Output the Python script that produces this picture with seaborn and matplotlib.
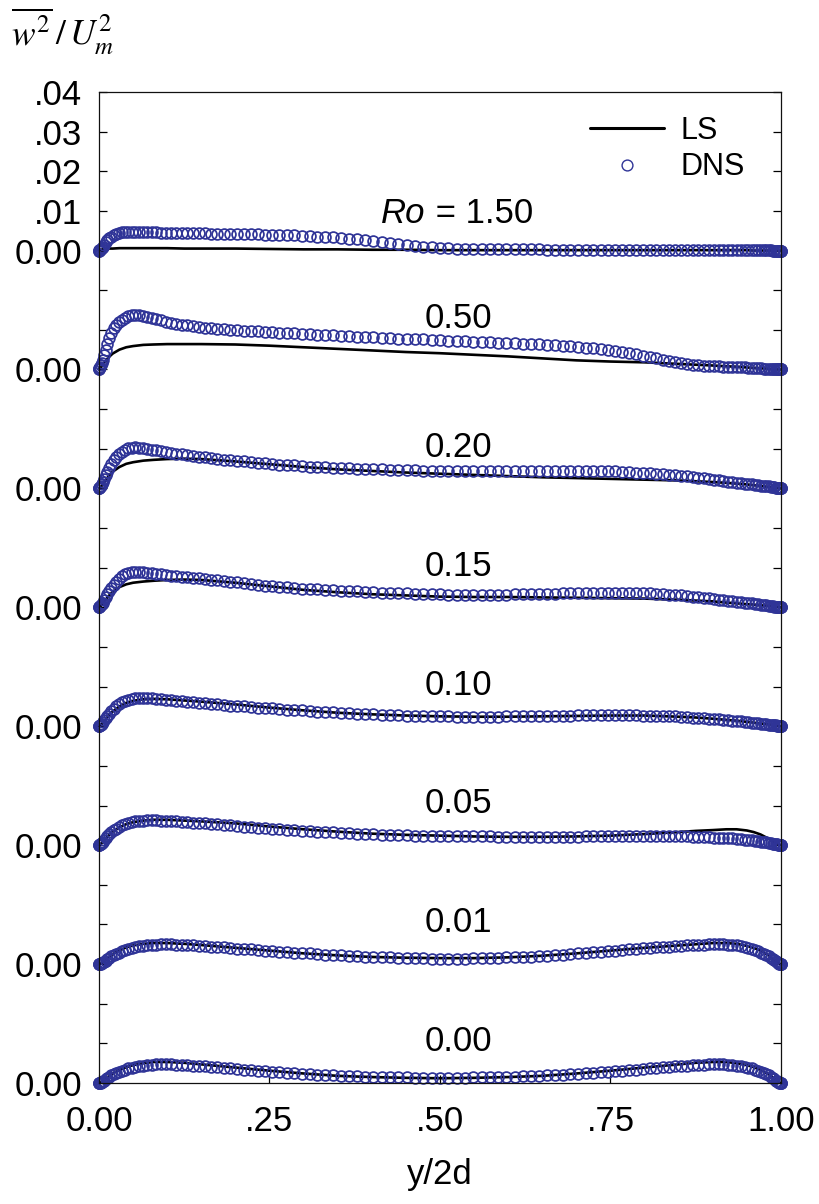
import numpy as np
import matplotlib
matplotlib.use("Agg")
import matplotlib.pyplot as plt
import seaborn as sns
from matplotlib.lines import Line2D

sns.set_theme(style="ticks")
plt.rcParams["font.family"] = ["Liberation Sans", "DejaVu Sans"]
plt.rcParams["mathtext.fontset"] = "stix"
plt.rcParams["text.color"] = "black"

# Profiles are stored in units of 1e-4 (w'w'/Um^2); each rotation case is
# shifted upward by STEP so the curves stack in one panel.
UNIT = 1e-4
STEP = 0.03

rotation_labels = ["0.00", "0.01", "0.05", "0.10", "0.15", "0.20", "0.50", "1.50"]

# DNS wall-normal grid (Chebyshev points)
x_dns = [
    0.0, 0.0002, 0.0006, 0.0014, 0.0024, 0.0038, 0.0054, 0.0074, 0.0096, 0.0121, 0.0150, 0.0181, 0.0215, 0.0252, 0.0292, 0.0335,
    0.0381, 0.0429, 0.0480, 0.0534, 0.0590, 0.0650, 0.0711, 0.0776, 0.0843, 0.0912, 0.0984, 0.1058, 0.1135, 0.1214, 0.1295, 0.1379,
    0.1464, 0.1552, 0.1642, 0.1734, 0.1828, 0.1924, 0.2022, 0.2121, 0.2222, 0.2325, 0.2429, 0.2536, 0.2643, 0.2752, 0.2862, 0.2974,
    0.3087, 0.3201, 0.3316, 0.3432, 0.3549, 0.3666, 0.3785, 0.3904, 0.4025, 0.4145, 0.4266, 0.4388, 0.4510, 0.4632, 0.4755, 0.4877,
    0.5000,
    0.5123, 0.5245, 0.5368, 0.5490, 0.5612, 0.5734, 0.5855, 0.5975, 0.6096, 0.6215, 0.6334, 0.6451, 0.6568, 0.6684, 0.6799, 0.6913,
    0.7026, 0.7138, 0.7248, 0.7357, 0.7464, 0.7571, 0.7675, 0.7778, 0.7879, 0.7978, 0.8076, 0.8172, 0.8266, 0.8358, 0.8448, 0.8536,
    0.8621, 0.8705, 0.8786, 0.8865, 0.8942, 0.9016, 0.9088, 0.9157, 0.9224, 0.9289, 0.9350, 0.9410, 0.9466, 0.9520, 0.9571, 0.9619,
    0.9665, 0.9708, 0.9748, 0.9785, 0.9819, 0.9850, 0.9879, 0.9904, 0.9926, 0.9946, 0.9962, 0.9976, 0.9986, 0.9994, 0.9998, 1.0,
]

dns_ro000 = [
    0, 0, 0, 0, 1, 2, 4, 6, 9, 12, 16, 19, 22, 25, 28, 31,
    34, 37, 39, 41, 43, 44, 45, 46, 47, 47, 47, 47, 46, 46, 45, 44,
    43, 42, 41, 40, 39, 37, 36, 34, 33, 31, 30, 29, 27, 26, 24, 23,
    22, 21, 20, 19, 18, 17, 17, 16, 15, 15, 14, 14, 14, 13, 13, 13,
    13,
    13, 13, 13, 14, 14, 14, 15, 15, 16, 17, 17, 18, 19, 20, 21, 22,
    23, 24, 26, 27, 29, 30, 31, 33, 34, 36, 37, 39, 40, 41, 42, 43,
    44, 45, 46, 46, 47, 47, 47, 47, 46, 45, 44, 43, 41, 39, 37, 34,
    31, 28, 25, 22, 19, 16, 12, 9, 6, 4, 2, 1, 0, 0, 0, 0,
]
dns_ro001 = [
    0, 0, 0, 0, 1, 2, 4, 6, 9, 13, 16, 20, 23, 26, 29, 32,
    35, 38, 40, 43, 45, 46, 47, 48, 49, 50, 50, 50, 49, 49, 48, 47,
    46, 45, 44, 43, 42, 41, 39, 38, 37, 35, 34, 33, 31, 30, 29, 28,
    27, 26, 24, 23, 22, 21, 20, 19, 18, 17, 17, 16, 16, 15, 15, 14,
    14,
    14, 14, 14, 15, 15, 16, 16, 17, 18, 18, 19, 20, 21, 23, 24, 26,
    27, 29, 30, 31, 33, 34, 36, 37, 38, 40, 41, 42, 43, 44, 45, 46,
    47, 48, 49, 49, 50, 50, 50, 50, 49, 48, 47, 45, 43, 41, 38, 35,
    32, 29, 26, 23, 20, 16, 13, 10, 7, 4, 2, 1, 0, 0, 0, 0,
]
dns_ro005 = [
    0, 0, 1, 2, 3, 5, 8, 12, 17, 22, 27, 32, 37, 42, 46, 50,
    53, 56, 58, 60, 61, 62, 63, 63, 63, 62, 62, 61, 60, 59, 58, 57,
    56, 55, 54, 53, 51, 50, 49, 47, 46, 44, 43, 42, 40, 39, 37, 36,
    35, 34, 33, 32, 31, 30, 29, 28, 27, 26, 26, 25, 25, 24, 24, 24,
    23,
    23, 23, 23, 22, 22, 22, 21, 21, 21, 21, 21, 21, 21, 21, 21, 21,
    21, 22, 22, 22, 22, 23, 23, 23, 23, 23, 23, 23, 23, 23, 23, 22,
    22, 21, 21, 20, 20, 19, 19, 18, 17, 17, 16, 15, 14, 13, 12, 11,
    10, 9, 8, 7, 6, 5, 4, 3, 2, 2, 1, 1, 0, 0, 0, 0,
]
dns_ro010 = [
    0, 0, 1, 2, 4, 6, 10, 15, 20, 26, 32, 38, 44, 50, 55, 60,
    64, 67, 69, 71, 72, 72, 71, 70, 69, 68, 67, 66, 64, 63, 62, 60,
    59, 58, 56, 55, 53, 52, 51, 50, 48, 47, 46, 45, 43, 42, 41, 40,
    38, 37, 36, 35, 34, 33, 32, 31, 30, 29, 28, 28, 27, 26, 26, 25,
    25,
    25, 24, 24, 24, 24, 24, 24, 25, 25, 25, 26, 26, 26, 27, 27, 27,
    28, 28, 28, 28, 28, 28, 28, 28, 28, 27, 27, 26, 26, 25, 25, 24,
    23, 22, 21, 20, 19, 18, 17, 16, 15, 14, 13, 12, 11, 10, 9, 8,
    7, 6, 6, 5, 4, 3, 3, 2, 2, 1, 1, 0, 0, 0, 0, 0,
]
dns_ro015 = [
    0, 0, 1, 3, 5, 8, 12, 18, 25, 33, 41, 49, 57, 65, 72, 78,
    83, 86, 88, 89, 89, 88, 87, 86, 85, 83, 82, 80, 79, 77, 76, 74,
    73, 71, 70, 68, 66, 64, 63, 61, 59, 57, 55, 53, 52, 50, 49, 47,
    46, 45, 44, 43, 42, 41, 40, 39, 38, 37, 37, 36, 35, 34, 34, 33,
    33,
    32, 32, 32, 32, 32, 32, 32, 32, 33, 33, 33, 34, 34, 34, 35, 35,
    35, 36, 36, 36, 36, 36, 36, 36, 36, 35, 35, 34, 33, 32, 31, 30,
    29, 27, 26, 24, 23, 21, 19, 18, 16, 15, 14, 13, 12, 11, 10, 9,
    8, 7, 6, 5, 4, 4, 3, 2, 2, 1, 1, 0, 0, 0, 0, 0,
]
dns_ro020 = [
    0, 1, 2, 4, 7, 11, 17, 24, 33, 42, 52, 62, 71, 80, 87, 93,
    98, 101, 103, 104, 103, 102, 100, 98, 96, 94, 92, 90, 88, 86, 84, 82,
    80, 78, 76, 74, 72, 71, 69, 68, 66, 65, 63, 62, 60, 59, 58, 56,
    55, 54, 53, 52, 51, 51, 50, 49, 48, 48, 47, 47, 46, 46, 45, 45,
    44,
    44, 44, 44, 44, 43, 43, 43, 43, 43, 43, 43, 43, 43, 44, 44, 44,
    44, 44, 44, 44, 43, 43, 42, 41, 40, 39, 38, 37, 36, 34, 33, 31,
    30, 28, 26, 25, 23, 21, 20, 18, 17, 15, 14, 13, 12, 11, 10, 9,
    8, 7, 6, 5, 5, 4, 3, 3, 2, 2, 1, 1, 0, 0, 0, 0,
]
dns_ro050 = [
    0, 1, 3, 6, 11, 17, 25, 36, 50, 65, 80, 93, 104, 113, 120, 126,
    131, 135, 137, 138, 137, 135, 133, 130, 127, 124, 121, 118, 115, 113, 111, 109,
    107, 105, 104, 102, 101, 100, 99, 98, 97, 96, 95, 94, 93, 92, 91, 90,
    89, 88, 87, 86, 85, 84, 83, 82, 81, 80, 79, 78, 77, 76, 76, 75,
    74,
    73, 72, 71, 70, 69, 69, 68, 67, 66, 65, 64, 63, 62, 61, 59, 58,
    57, 55, 53, 51, 49, 47, 44, 41, 38, 35, 32, 28, 25, 21, 18, 16,
    14, 12, 11, 10, 9, 8, 8, 7, 7, 6, 6, 5, 5, 4, 4, 3,
    3, 3, 2, 2, 2, 1, 1, 1, 1, 0, 0, 0, 0, 0, 0, 0,
]
dns_ro150 = [
    0, 0, 1, 2, 4, 6, 10, 15, 21, 26, 31, 35, 39, 42, 45, 47,
    48, 48, 48, 48, 47, 47, 46, 46, 46, 45, 45, 45, 45, 45, 44, 44,
    44, 44, 43, 43, 43, 42, 42, 42, 41, 41, 40, 40, 39, 38, 38, 37,
    36, 35, 34, 33, 31, 30, 28, 26, 24, 22, 19, 17, 14, 12, 10, 8,
    7,
    6, 5, 5, 4, 4, 4, 3, 3, 3, 3, 3, 3, 2, 2, 2, 2,
    2, 2, 2, 2, 2, 2, 2, 2, 2, 2, 2, 2, 2, 2, 1, 1,
    1, 1, 1, 1, 1, 1, 1, 1, 1, 1, 1, 1, 1, 1, 1, 1,
    1, 1, 1, 1, 1, 1, 0, 0, 0, 0, 0, 0, 0, 0, 0, 0,
]

# LS model solution grid
x_ls = [
    0.0, 0.002, 0.005, 0.01, 0.015, 0.02, 0.03, 0.04, 0.05, 0.065,
    0.08, 0.10, 0.125, 0.15, 0.20, 0.25, 0.30, 0.35, 0.40, 0.45,
    0.50, 0.55, 0.60, 0.65, 0.70, 0.75, 0.80, 0.85, 0.875, 0.90,
    0.92, 0.935, 0.95, 0.96, 0.97, 0.98, 0.985, 0.99, 0.995, 0.998, 1.0,
]
ls_ro000 = [0, 1, 4, 11, 18, 24, 33, 40, 45, 50,
            53, 53, 51, 47, 39, 31, 24, 18, 15, 13,
            12, 13, 15, 18, 24, 31, 39, 47, 51, 53,
            53, 50, 45, 40, 33, 24, 18, 11, 4, 1, 0]
ls_ro001 = [0, 1, 4, 11, 18, 25, 35, 42, 47, 51,
            53, 53, 51, 48, 41, 34, 27, 22, 18, 16,
            15, 15, 17, 21, 27, 34, 41, 47, 50, 53,
            53, 51, 46, 41, 34, 24, 18, 11, 4, 1, 0]
ls_ro005 = [0, 2, 7, 17, 26, 34, 45, 53, 58, 62,
            64, 64, 62, 60, 55, 47, 40, 34, 29, 26,
            24, 22, 21, 21, 22, 24, 28, 33, 36, 38,
            40, 40, 37, 33, 27, 18, 13, 8, 3, 1, 0]
ls_ro010 = [0, 2, 7, 18, 28, 37, 50, 59, 64, 68,
            69, 68, 65, 62, 55, 47, 40, 34, 30, 27,
            25, 24, 24, 25, 26, 27, 27, 24, 22, 19,
            16, 14, 11, 9, 7, 5, 4, 2, 1, 0, 0]
ls_ro015 = [0, 2, 8, 19, 30, 39, 51, 58, 62, 65,
            67, 69, 70, 69, 62, 53, 44, 38, 33, 30,
            27, 26, 26, 25, 24, 23, 22, 19, 17, 15,
            12, 10, 8, 7, 5, 4, 3, 2, 1, 0, 0]
ls_ro020 = [0, 2, 9, 21, 33, 42, 54, 62, 66, 70,
            72, 74, 75, 74, 68, 61, 54, 48, 44, 40,
            37, 34, 31, 28, 26, 24, 22, 20, 18, 16,
            14, 12, 10, 8, 6, 4, 3, 2, 1, 0, 0]
ls_ro050 = [0, 3, 10, 22, 32, 40, 50, 56, 59, 62,
            63, 64, 64, 64, 63, 60, 56, 52, 48, 44,
            41, 37, 33, 28, 23, 20, 18, 14, 12, 10,
            8, 7, 5, 4, 3, 2, 1, 1, 0, 0, 0]
ls_ro150 = [0, 1, 3, 4, 5, 5, 6, 6, 6, 6,
            6, 6, 5, 5, 5, 4, 3, 3, 2, 2,
            1, 1, 1, 1, 1, 1, 1, 1, 1, 1,
            1, 1, 1, 0, 0, 0, 0, 0, 0, 0, 0]

dns_profiles = [dns_ro000, dns_ro001, dns_ro005, dns_ro010,
                dns_ro015, dns_ro020, dns_ro050, dns_ro150]
ls_profiles = [ls_ro000, ls_ro001, ls_ro005, ls_ro010,
               ls_ro015, ls_ro020, ls_ro050, ls_ro150]

BLUE = "#2F3497"
TEXT_SIZE = 25
MARKER_SIZE = 7.8
MARKER_EDGE = 1.25

fig = plt.figure(figsize=(8.2, 12.04), dpi=100)
ax = fig.add_axes([0.1207, 0.1005, 0.8317, 0.8231])

for k, (lab, ls_vals, dns_vals) in enumerate(zip(rotation_labels, ls_profiles, dns_profiles)):
    base = k * STEP
    sns.lineplot(x=np.array(x_ls), y=np.array(ls_vals) * UNIT + base, ax=ax,
                 color="black", linewidth=1.9, sort=False, estimator=None)
    sns.lineplot(x=np.array(x_dns), y=np.array(dns_vals) * UNIT + base, ax=ax,
                 linestyle="none", marker="o", markersize=MARKER_SIZE,
                 markerfacecolor="none", markeredgecolor=BLUE,
                 markeredgewidth=MARKER_EDGE, sort=False, estimator=None)
    if k < len(rotation_labels) - 1:
        ax.text(0.527, base + 0.0104 + (0.0025 if lab == "0.50" else 0.0), lab,
                ha="center", va="center", fontsize=TEXT_SIZE, color="black")
    else:
        ax.text(0.479, base + 0.0094, "Ro", style="italic",
                ha="right", va="center", fontsize=TEXT_SIZE, color="black")
        ax.text(0.479, base + 0.0094, " = " + lab,
                ha="left", va="center", fontsize=TEXT_SIZE, color="black")

for line in ax.lines:
    line.set_clip_on(False)

ax.set_xlim(0, 1)
ax.set_ylim(0, 0.25)

# x axis
xticks = [0.0, 0.25, 0.5, 0.75, 1.0]
xtick_labels = ["0.00", ".25", ".50", ".75", "1.00"]
ax.set_xticks(xticks)
ax.set_xticklabels(xtick_labels)

# y axis: one tick per 0.01, labels at each curve's zero and on the top scale
yticks = np.round(np.arange(0, 0.2501, 0.01), 3)
ytick_labels = []
top_base = (len(rotation_labels) - 1) * STEP
for v in yticks:
    rel = round(v - top_base, 3)
    if rel > 0:
        ytick_labels.append("." + f"{rel:.2f}".split(".")[1])
    elif abs(round(v / STEP) * STEP - v) < 1e-6:
        ytick_labels.append("0.00")
    else:
        ytick_labels.append("")
ax.set_yticks(yticks)
ax.set_yticklabels(ytick_labels)

ax.tick_params(axis="both", direction="in", length=5.5, width=0.9, color="black",
               labelsize=TEXT_SIZE, labelcolor="black")
ax.tick_params(axis="y", left=True, right=True, pad=12)
ax.tick_params(axis="x", bottom=True, top=False, pad=16)
for sp in ax.spines.values():
    sp.set_visible(True)
    sp.set_linewidth(0.9)
    sp.set_color("#111111")

ax.set_xlabel("y/2d", fontsize=TEXT_SIZE, color="black")
ax.xaxis.label.set_va("center")
ax.xaxis.set_label_coords(0.5, -0.092)
ax.set_ylabel("")

fig.text(0.013, 0.974, r"$\overline{w^2}\,/\,U_m^2$", fontsize=25.5,
         ha="left", va="center", color="black")

handles = [
    Line2D([], [], color="black", linewidth=2.2),
    Line2D([], [], linestyle="none", marker="o", markersize=MARKER_SIZE,
           markerfacecolor="none", markeredgecolor=BLUE, markeredgewidth=1.0),
]
ax.legend(handles, ["LS", "DNS"], loc="upper left", bbox_to_anchor=(0.72, 0.976),
          frameon=False, fontsize=22, handlelength=2.42, handletextpad=0.55,
          labelspacing=0.22, borderpad=0, borderaxespad=0, numpoints=1,
          labelcolor="black")

fig.savefig("out.png", dpi=100, facecolor="white")
